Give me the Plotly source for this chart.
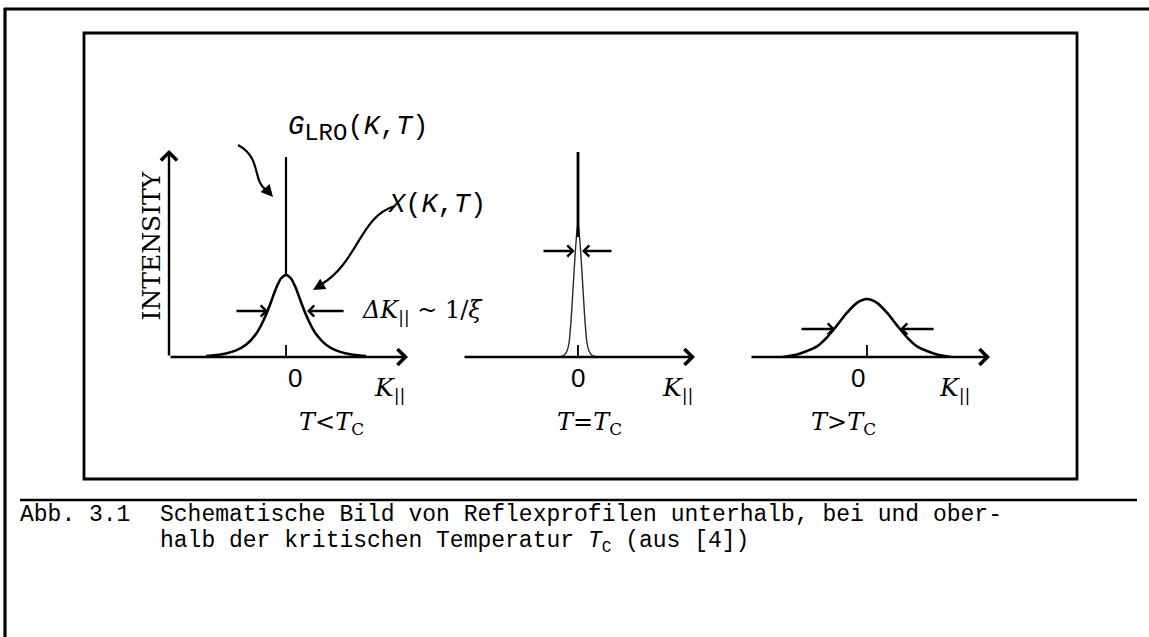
import plotly.graph_objects as go

W, H = 1149, 637

# ---------------- data ----------------
# Panel 1: T < Tc  -> diffuse peak X(K,T) + sharp Bragg spike G_LRO(K,T)
k_below = [-4, -3.5, -3, -2.5, -2, -1.5, -1.25, -1, -0.75, -0.5, -0.25, 0,
           0.25, 0.5, 0.75, 1, 1.25, 1.5, 2, 2.5, 3, 3.5, 4]
i_below = [0.10, 0.20, 0.36, 0.66, 1.22, 2.30, 3.15, 4.22, 5.50, 6.85, 7.85, 8.2,
           7.85, 6.85, 5.50, 4.22, 3.15, 2.30, 1.22, 0.66, 0.36, 0.20, 0.10]
spike_below_k = [0, 0]
spike_below_i = [8.2, 20.0]

# Panel 2: T = Tc -> very narrow peak
k_at = [-0.95, -0.7, -0.55, -0.45, -0.36, -0.27, -0.18, -0.09, 0,
        0.09, 0.18, 0.27, 0.36, 0.45, 0.55, 0.7, 0.95]
i_at = [0.0, 0.17, 0.6, 1.4, 3.3, 6.1, 9.1, 11.7, 13.5,
        11.7, 9.1, 6.1, 3.3, 1.4, 0.6, 0.17, 0.0]
spike_at_k = [0, 0]
spike_at_i = [12.0, 20.5]

# Panel 3: T > Tc -> broad peak
k_above = [-4.2, -3.5, -3, -2.5, -2, -1.5, -1, -0.5, 0, 0.5, 1, 1.5, 2, 2.5, 3, 3.5, 4.2]
i_above = [0.0, 0.25, 0.6, 1.07, 1.97, 3.16, 4.43, 5.42, 5.8, 5.42, 4.43, 3.16,
           1.97, 1.07, 0.6, 0.25, 0.0]

# width markers: level, (tail, tip) left and right, per panel
width_level = [4.6, 10.6, 2.8]
width_left = [(-2.55, -0.9), (-1.8, -0.17), (-3.35, -1.6)]
width_right = [(2.95, 1.05), (1.75, 0.2), (3.4, 1.65)]

# axis extents per panel (K from, K to)
axis_k = [(-5.85, 6.1), (-5.75, 5.85), (-5.85, 6.15)]
y_axis_top = 20.7

panel_titles = ["<i>T</i>&lt;<i>T</i><sub>C</sub>",
                "<i>T</i>=<i>T</i><sub>C</sub>",
                "<i>T</i>&gt;<i>T</i><sub>C</sub>"]
tick_zero = ["0", "0", "0"]
k_label = "<i>K</i><sub>||</sub>"

caption_no = "Abb. 3.1"
caption_l1 = "Schematische Bild von Reflexprofilen unterhalb, bei und ober-"
caption_l2 = "halb der kritischen Temperatur <i>T</i><sub>C</sub> (aus [4])"

# ---------------- layout helpers (pixel -> paper) ----------------
def px(x):
    return x / W

def py(y):
    return 1 - y / H

zero_px = [286, 578, 867]          # pixel x of K = 0 in each panel
x_ranges = [(-6, 6.2), (-6.2, 6.2), (-6.2, 6.2)]
K_PX = 20.0                         # pixels per K unit
I_PX = 10.0                         # pixels per intensity unit
base_px = 357
y_range = (0, 22)
dom_y = (py(base_px), py(base_px - I_PX * y_range[1]))

fig = go.Figure()
axes = ["", "2", "3"]

curves = [(k_below, i_below), (k_at, i_at), (k_above, i_above)]
for n, (kk, ii) in enumerate(curves):
    fig.add_trace(go.Scatter(x=kk, y=ii, mode="lines",
                             line=dict(color="black" if n != 1 else "#2a2a2a",
                                       width=2.6 if n != 1 else 1.4,
                                       shape="spline", smoothing=0.8),
                             xaxis="x" + axes[n], yaxis="y" + axes[n],
                             hoverinfo="skip", showlegend=False))

fig.add_trace(go.Scatter(x=spike_below_k, y=spike_below_i, mode="lines",
                         line=dict(color="black", width=2.2),
                         xaxis="x", yaxis="y", showlegend=False, hoverinfo="skip"))
fig.add_trace(go.Scatter(x=spike_at_k, y=spike_at_i, mode="lines",
                         line=dict(color="black", width=2.8),
                         xaxis="x2", yaxis="y2", showlegend=False, hoverinfo="skip"))

layout_axes = {}
for n in range(3):
    a = axes[n]
    x0 = zero_px[n] + K_PX * x_ranges[n][0]
    x1 = zero_px[n] + K_PX * x_ranges[n][1]
    layout_axes["xaxis" + a] = dict(domain=[px(x0), px(x1)], range=list(x_ranges[n]),
                                    visible=False, anchor="y" + a, fixedrange=True)
    layout_axes["yaxis" + a] = dict(domain=list(dom_y), range=list(y_range),
                                    visible=False, anchor="x" + a, fixedrange=True)

annotations = []
shapes = []

serif_it = "DejaVu Serif"
for n in range(3):
    a = axes[n]
    annotations.append(dict(x=axis_k[n][1], y=0, ax=axis_k[n][0], ay=0,
                            xref="x" + a, yref="y" + a, axref="x" + a, ayref="y" + a,
                            showarrow=True, arrowhead=4, arrowsize=1.3, arrowwidth=2.4,
                            arrowcolor="black", text=""))
    shapes.append(dict(type="line", xref="x" + a, yref="y" + a, x0=0, x1=0, y0=0, y1=1.2,
                       line=dict(color="black", width=1.8)))
    for (tail, tip) in (width_left[n], width_right[n]):
        annotations.append(dict(x=tip, y=width_level[n], ax=tail, ay=width_level[n],
                                xref="x" + a, yref="y" + a, axref="x" + a, ayref="y" + a,
                                showarrow=True, arrowhead=4, arrowsize=0.9, arrowwidth=2.4,
                                arrowcolor="black", text=""))
    z = zero_px[n]
    annotations.append(dict(x=px(z), y=py(base_px + 21), xref="paper", yref="paper",
                            text=tick_zero[n], showarrow=False,
                            font=dict(family="Liberation Sans", size=26, color="black")))
    tip_px = z + K_PX * axis_k[n][1]
    annotations.append(dict(x=px(tip_px - 18), y=py(base_px + 32), xref="paper", yref="paper",
                            text=k_label, showarrow=False,
                            font=dict(family=serif_it, size=25, color="black")))
    annotations.append(dict(x=px(z + 11), y=py(base_px + 66), xref="paper", yref="paper",
                            text=panel_titles[n], showarrow=False,
                            font=dict(family=serif_it, size=24, color="black")))

annotations.append(dict(x=axis_k[0][0], y=y_axis_top, ax=axis_k[0][0], ay=0,
                        xref="x", yref="y", axref="x", ayref="y",
                        showarrow=True, arrowhead=4, arrowsize=1.3, arrowwidth=2.4,
                        arrowcolor="black", text=""))
annotations.append(dict(x=px(135), y=py(246), xref="paper", yref="paper", text="INTENSITY",
                        textangle=-90, showarrow=False,
                        font=dict(family="DejaVu Serif", size=25, color="black")))

mono = "Liberation Mono"
annotations.append(dict(x=px(286), y=py(110), xref="paper", yref="paper",
                        text="<i>G</i><sub><span style='font-size:24px'>LRO</span></sub>(<i>K</i>,<i>T</i>)",
                        showarrow=False, font=dict(family=mono, size=27, color="black")))
annotations.append(dict(x=px(437), y=py(188), xref="paper", yref="paper",
                        text="<i>X</i>(<i>K</i>,<i>T</i>)", showarrow=False,
                        font=dict(family=mono, size=27, color="black")))
annotations.append(dict(x=px(360), y=py(311), xref="paper", yref="paper", xanchor="left",
                        text="<i>ΔK</i><sub>||</sub> ~ 1/<i>ξ</i>", showarrow=False,
                        font=dict(family=serif_it, size=24, color="black")))

def path(pts):
    (x0, y0), (x1, y1), (x2, y2), (x3, y3) = pts
    return "M {} {} C {} {}, {} {}, {} {}".format(px(x0), py(y0), px(x1), py(y1),
                                                  px(x2), py(y2), px(x3), py(y3))

shapes.append(dict(type="path", xref="paper", yref="paper",
                   path=path([(238, 145), (262, 158), (252, 180), (266, 190)]),
                   line=dict(color="black", width=2.2)))
annotations.append(dict(x=px(273), y=py(197), xref="paper", yref="paper", ax=-7, ay=-8,
                        showarrow=True, arrowhead=2, arrowsize=1.2, arrowwidth=2,
                        arrowcolor="black", text=""))
shapes.append(dict(type="path", xref="paper", yref="paper",
                   path=path([(395, 206), (360, 216), (358, 262), (322, 284)]),
                   line=dict(color="black", width=2.2)))
annotations.append(dict(x=px(313), y=py(290), xref="paper", yref="paper", ax=10, ay=-6,
                        showarrow=True, arrowhead=2, arrowsize=1.2, arrowwidth=2,
                        arrowcolor="black", text=""))

# frames
shapes.append(dict(type="line", xref="paper", yref="paper", x0=px(4), x1=px(1149),
                   y0=py(9), y1=py(9), line=dict(color="black", width=3)))
shapes.append(dict(type="line", xref="paper", yref="paper", x0=px(5), x1=px(5),
                   y0=py(8), y1=py(637), line=dict(color="black", width=3.2)))
shapes.append(dict(type="rect", xref="paper", yref="paper", x0=px(84), x1=px(1077),
                   y0=py(33), y1=py(479), line=dict(color="black", width=2.8)))
shapes.append(dict(type="line", xref="paper", yref="paper", x0=px(20), x1=px(1137),
                   y0=py(500), y1=py(500), line=dict(color="black", width=2.5)))

cap_font = dict(family="Liberation Mono", size=23, color="black")
annotations.append(dict(x=px(18), y=py(530), xref="paper", yref="paper", xanchor="left",
                        text=caption_no, showarrow=False, font=cap_font))
annotations.append(dict(x=px(158), y=py(530), xref="paper", yref="paper", xanchor="left",
                        text=caption_l1, showarrow=False, font=cap_font))
annotations.append(dict(x=px(158), y=py(559), xref="paper", yref="paper", xanchor="left",
                        text=caption_l2, showarrow=False, font=cap_font))

fig.update_layout(width=W, height=H, autosize=False,
                  margin=dict(l=0, r=0, t=0, b=0),
                  paper_bgcolor="white", plot_bgcolor="white",
                  showlegend=False, annotations=annotations, shapes=shapes,
                  **layout_axes)

fig.write_html("out.html", config={"displayModeBar": False},
               post_script="document.body.style.margin='0';document.body.style.overflow='hidden';")
